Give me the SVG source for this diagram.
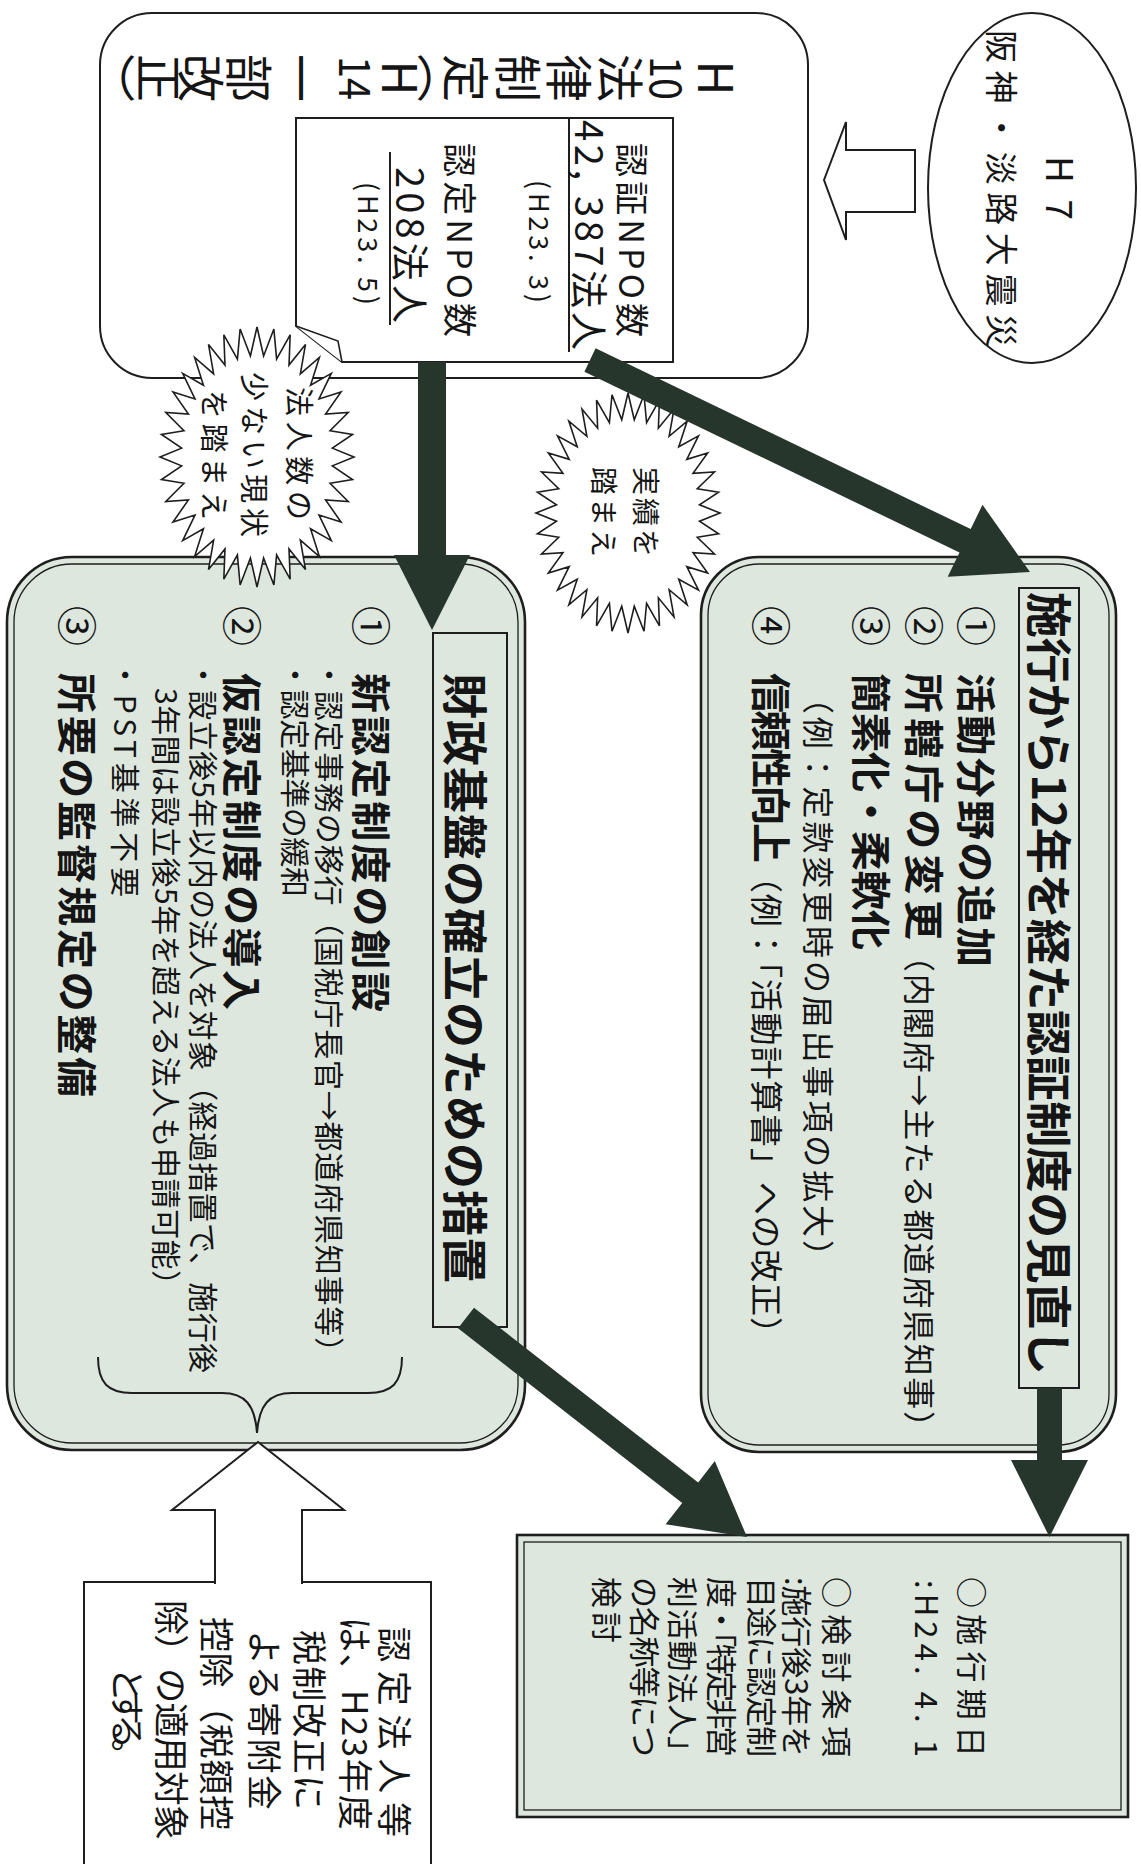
<svg xmlns="http://www.w3.org/2000/svg" width="1141" height="1864" viewBox="0 0 1141 1864">
<defs>
<style>
.t{font-family:"Noto Sans CJK JP","Noto Sans",sans-serif;fill:#151515}
.b{font-weight:bold}
.ln{fill:none;stroke:#1e1e1e;stroke-width:2}
.white{fill:#fff;stroke:#1e1e1e;stroke-width:2}
.box{fill:#dde7de;stroke:#1e1e1e;stroke-width:2.6}
.inb{fill:none;stroke:#1e1e1e;stroke-width:1.3}
.band{fill:#dde7de;stroke:#1e1e1e;stroke-width:2}
.dark{fill:#26362c}
</style>
<path id="star" fill="#fff" stroke="#1e1e1e" stroke-width="1.6" vector-effect="non-scaling-stroke" d="M1,0 L.777,.068 L.985,.174 L.753,.202 L.94,.342 L.707,.33 L.866,.5 L.639,.447 L.766,.643 L.552,.552 L.643,.766 L.447,.639 L.5,.866 L.33,.707 L.342,.94 L.202,.753 L.174,.985 L.068,.777 L0,1 L-.068,.777 L-.174,.985 L-.202,.753 L-.342,.94 L-.33,.707 L-.5,.866 L-.447,.639 L-.643,.766 L-.552,.552 L-.766,.643 L-.639,.447 L-.866,.5 L-.707,.33 L-.94,.342 L-.753,.202 L-.985,.174 L-.777,.068 L-1,0 L-.777,-.068 L-.985,-.174 L-.753,-.202 L-.94,-.342 L-.707,-.33 L-.866,-.5 L-.639,-.447 L-.766,-.643 L-.552,-.552 L-.643,-.766 L-.447,-.639 L-.5,-.866 L-.33,-.707 L-.342,-.94 L-.202,-.753 L-.174,-.985 L-.068,-.777 L0,-1 L.068,-.777 L.174,-.985 L.202,-.753 L.342,-.94 L.33,-.707 L.5,-.866 L.447,-.639 L.643,-.766 L.552,-.552 L.766,-.643 L.639,-.447 L.866,-.5 L.707,-.33 L.94,-.342 L.753,-.202 L.985,-.174 L.777,-.068 Z"/>
</defs>
<rect width="1141" height="1864" fill="#fff"/>

<g id="node-law">
<rect x="100" y="13" width="708" height="365" rx="52" class="white"/>
<path d="M296,118 H673 V362 H342 L296,326 Z" class="white"/>
<path d="M296,326 L338,341 L342,362" fill="#fff" stroke="#1e1e1e" stroke-width="1.6"/>
<path d="M569,118 V352 M390,152 V325" class="ln"/>
<g transform="translate(1141 0) rotate(90)" class="t" font-size="48" text-anchor="middle">
<text x="78" y="443">H</text>
<text x="78" y="491" font-size="44" textLength="44" lengthAdjust="spacingAndGlyphs">10</text>
<text x="78" y="539">法</text>
<text x="78" y="590">律</text>
<text x="78" y="641">制</text>
<text x="78" y="693">定</text>
<text x="78" y="719">︵</text>
<text x="78" y="759">H</text>
<text x="78" y="802" font-size="44" textLength="44" lengthAdjust="spacingAndGlyphs">14</text>
<text x="78" y="858">一</text>
<text x="78" y="910">部</text>
<text x="78" y="958">改</text>
<text x="78" y="1000">正</text>
<text x="78" y="1047">︶</text>
</g>
<g transform="translate(1141 0) rotate(90)" class="t">
<text x="143" y="522" font-size="34" textLength="194" lengthAdjust="spacing">認証NPO数</text>
<text x="120" y="566" font-size="38" textLength="230" lengthAdjust="spacing">42, 387法人</text>
<text x="180" y="612" font-size="27" textLength="123" lengthAdjust="spacing">(H23. 3)</text>
<text x="143" y="694" font-size="34" textLength="194" lengthAdjust="spacing">認定NPO数</text>
<text x="167" y="745" font-size="38" textLength="156" lengthAdjust="spacing">208法人</text>
<text x="182" y="783" font-size="27" textLength="123" lengthAdjust="spacing">(H23. 5)</text>
</g>
</g>

<g id="node-quake">
<ellipse cx="1032" cy="188" rx="104" ry="175" class="white"/>
<g transform="translate(1141 0) rotate(90)" class="t">
<text x="156" y="95" font-size="37" textLength="64" lengthAdjust="spacing">H7</text>
<text x="30" y="152" font-size="33" textLength="317" lengthAdjust="spacing">阪神・淡路大震災</text>
</g>
</g>

<g id="node-review">
<rect x="701" y="557" width="415" height="895" rx="58" class="box"/>
<rect x="708" y="564" width="401" height="881" rx="51" class="inb"/>
<rect x="1019" y="588" width="60" height="800" class="band"/>
<g transform="translate(1141 0) rotate(90)" class="t">
<text x="592" y="109" font-size="46" class="b" textLength="783" lengthAdjust="spacing">施行から12年を経た認証制度の見直し</text>
<text x="606" y="180" font-size="40">①</text>
<text x="673" y="180" font-size="40" class="b" textLength="294" lengthAdjust="spacing">活動分野の追加</text>
<text x="606" y="232" font-size="40">②</text>
<text x="673" y="232" font-size="40" class="b" textLength="267" lengthAdjust="spacing">所轄庁の変更</text>
<text x="940" y="234" font-size="32" textLength="503" lengthAdjust="spacing">（内閣府→主たる都道府県知事）</text>
<text x="606" y="285" font-size="40">③</text>
<text x="673" y="285" font-size="40" class="b" textLength="277" lengthAdjust="spacing">簡素化・柔軟化</text>
<text x="682" y="335" font-size="32" textLength="590" lengthAdjust="spacing">（例：定款変更時の届出事項の拡大）</text>
<text x="606" y="385" font-size="40">④</text>
<text x="673" y="385" font-size="40" class="b" textLength="190" lengthAdjust="spacing">信頼性向上</text>
<text x="860" y="387" font-size="33" textLength="490" lengthAdjust="spacing">（例：「活動計算書」への改正）</text>
</g>
</g>

<g id="node-finance">
<rect x="7" y="557" width="518" height="893" rx="65" class="box"/>
<rect x="14" y="564" width="504" height="879" rx="58" class="inb"/>
<rect x="433" y="633" width="74" height="694" class="band"/>
<path d="M98,1357 C98,1383 108,1393 132,1393 L222,1393 C245,1393 255,1405 257,1433 C259,1405 269,1393 292,1393 L368,1393 C392,1393 402,1383 402,1357" class="ln"/>
<g transform="translate(1141 0) rotate(90)" class="t">
<text x="673" y="693" font-size="46" class="b" textLength="610" lengthAdjust="spacing">財政基盤の確立のための措置</text>
<text x="606" y="785" font-size="40">①</text>
<text x="673" y="785" font-size="40" class="b" textLength="339" lengthAdjust="spacing">新認定制度の創設</text>
<text x="660" y="823" font-size="30" textLength="707" lengthAdjust="spacing">・認定事務の移行（国税庁長官→都道府県知事等）</text>
<text x="660" y="857" font-size="30" textLength="237" lengthAdjust="spacing">・認定基準の緩和</text>
<text x="606" y="914" font-size="40">②</text>
<text x="673" y="914" font-size="40" class="b" textLength="337" lengthAdjust="spacing">仮認定制度の導入</text>
<text x="660" y="949" font-size="30" textLength="713" lengthAdjust="spacing">・設立後5年以内の法人を対象（経過措置で、施行後</text>
<text x="688" y="986" font-size="30" textLength="612" lengthAdjust="spacing">3年間は設立後5年を超える法人も申請可能）</text>
<text x="660" y="1027" font-size="30" textLength="237" lengthAdjust="spacing">・PST基準不要</text>
<text x="606" y="1079" font-size="40">③</text>
<text x="673" y="1079" font-size="40" class="b" textLength="424" lengthAdjust="spacing">所要の監督規定の整備</text>
</g>
</g>

<g id="node-enforce">
<rect x="517" y="1535" width="611" height="282" class="box" stroke-width="3"/>
<rect x="524" y="1542" width="597" height="268" class="inb"/>
<g transform="translate(1141 0) rotate(90)" class="t" font-size="31">
<text x="1577" y="181" textLength="180" lengthAdjust="spacing">○施行期日</text>
<text x="1580" y="226" textLength="177" lengthAdjust="spacing">:H24. 4. 1</text>
<text x="1577" y="316" textLength="180" lengthAdjust="spacing">○検討条項</text>
<text x="1577" y="356" textLength="180" lengthAdjust="spacing">:施行後3年を</text>
<text x="1577" y="391" textLength="180" lengthAdjust="spacing">目途に認定制</text>
<text x="1577" y="431" textLength="180" lengthAdjust="spacing">度・「特定非営</text>
<text x="1577" y="470" textLength="190" lengthAdjust="spacing">利活動法人」</text>
<text x="1577" y="508" textLength="180" lengthAdjust="spacing">の名称等につ</text>
<text x="1577" y="546" textLength="66" lengthAdjust="spacing">検討</text>
</g>
</g>

<g id="node-note">
<path d="M84,1868 V1582 H215 M302,1582 H431 V1868" class="ln"/>
<g transform="translate(1141 0) rotate(90)" class="t" font-size="35">
<text x="1627" y="760" textLength="210" lengthAdjust="spacing">認定法人等</text>
<text x="1617" y="799" textLength="213" lengthAdjust="spacing">は、H23年度</text>
<text x="1630" y="845" textLength="180" lengthAdjust="spacing">税制改正に</text>
<text x="1630" y="890" textLength="180" lengthAdjust="spacing">よる寄附金</text>
<text x="1617" y="938" textLength="213" lengthAdjust="spacing">控除（税額控</text>
<text x="1600" y="983" textLength="240" lengthAdjust="spacing">除）の適用対象</text>
<text x="1667" y="1027" textLength="106" lengthAdjust="spacing">とする。</text>
</g>
</g>

<g id="burst-few">
<use href="#star" transform="translate(257 457) scale(97 130)"/>
<g transform="translate(1141 0) rotate(90)" class="t" font-size="29">
<text x="387" y="853" textLength="133" lengthAdjust="spacing">法人数の</text>
<text x="372" y="898" textLength="165" lengthAdjust="spacing">少ない現状</text>
<text x="390" y="938" textLength="130" lengthAdjust="spacing">を踏まえ</text>
</g>
</g>

<g id="burst-record">
<use href="#star" transform="translate(628 513) scale(92 120)"/>
<g transform="translate(1141 0) rotate(90)" class="t" font-size="28">
<text x="467" y="506" textLength="90" lengthAdjust="spacing">実績を</text>
<text x="467" y="548" textLength="90" lengthAdjust="spacing">踏まえ</text>
</g>
</g>

<g id="connectors">
<polygon points="824,180 846,122 846,150 915,150 915,212 846,212 846,240" class="white"/>
<polygon points="595.6,348.3 970.7,529.1 982.5,504.8 1030,572 947.7,576.8 959.5,552.5 584.4,371.7" class="dark"/>
<polygon points="418,362 446,362 446,555 470,555 432,630 394,555 418,555" class="dark"/>
<polygon points="1037,1388 1062,1388 1062,1460 1088,1460 1049.5,1537 1011,1460 1037,1460" class="dark"/>
<polygon points="474,1307.7 698.2,1482.4 714.8,1461.1 747,1537 665.6,1524.3 682.2,1503 458,1328.3" class="dark"/>
<path d="M215,1584 V1510 H172 L258,1442 L344,1510 H302 V1584" class="white"/>
</g>
</svg>
